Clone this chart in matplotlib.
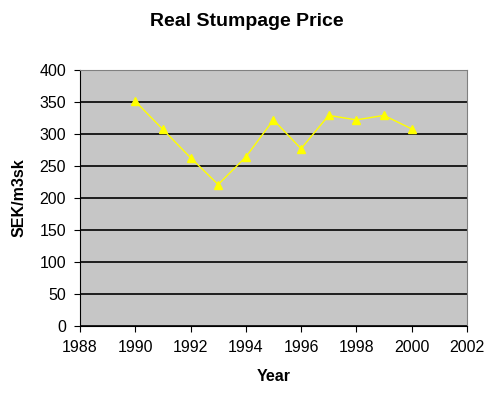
import matplotlib
matplotlib.use("Agg")
import matplotlib.pyplot as plt

plt.rcParams['font.family'] = ['Liberation Sans', 'DejaVu Sans']

years = [1990, 1991, 1992, 1993, 1994, 1995, 1996, 1997, 1998, 1999, 2000]
price = [351, 307, 263, 221, 264, 322, 277, 329, 322, 329, 308]

fig = plt.figure(figsize=(4.94, 3.93), dpi=100)
ax = fig.add_axes([0.162, 0.1705, 0.783, 0.6515])
ax.set_facecolor('#c6c6c6')

ax.plot(years, price, color='#ffff00', lw=1, marker='^', ms=6,
        markeredgecolor='#ffff00', markerfacecolor='#ffff00')

ax.set_xlim(1988, 2002)
ax.set_ylim(0, 400)
ax.set_xticks(range(1988, 2003, 2))
ax.set_yticks(range(0, 401, 50))
ax.yaxis.grid(True, color='black', lw=1.2)
ax.set_axisbelow(True)

for s in ['top', 'right']:
    ax.spines[s].set_color('#808080')
ax.spines['left'].set_color('black')
ax.spines['bottom'].set_color('black')
ax.tick_params(direction='out', length=4, labelsize=11.5, colors='black')
ax.tick_params(axis='x', pad=6)
ax.tick_params(axis='y', pad=6)

ax.set_xlabel('Year', fontsize=11.5, fontweight='bold', labelpad=10)
ax.set_ylabel('SEK/m3sk', fontsize=11.5, fontweight='bold', labelpad=9)
fig.suptitle('Real Stumpage Price', fontsize=14, fontweight='bold', y=0.967)

fig.savefig('out.png', dpi=100)
